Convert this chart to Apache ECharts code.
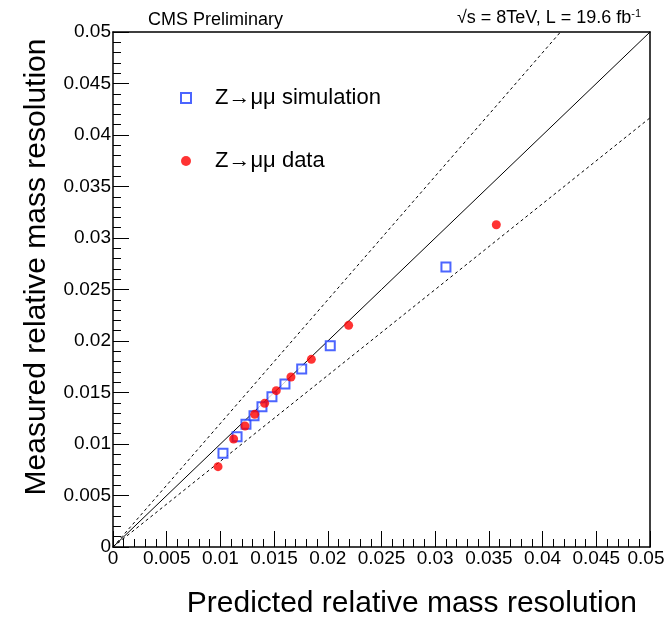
<!DOCTYPE html>
<html><head><meta charset="utf-8">
<script src="https://cdn.jsdelivr.net/npm/echarts@6/dist/echarts.min.js"></script>
<style>html,body{margin:0;padding:0;background:#fff}#c{width:665px;height:618px}</style>
</head><body><div id="c"></div>
<script>
// Z->mumu simulation (predicted, measured)
const simX = [0.01024, 0.01155, 0.01238, 0.01313, 0.01387, 0.01480, 0.01601, 0.01757, 0.02023, 0.0310];
const simY = [0.00910, 0.01071, 0.01191, 0.01275, 0.01362, 0.01459, 0.01583, 0.01728, 0.01954, 0.02718];
// Z->mumu data
const dataX = [0.00978, 0.01123, 0.01229, 0.01319, 0.01412, 0.01520, 0.01657, 0.01847, 0.02194, 0.03569];
const dataY = [0.00780, 0.01049, 0.01175, 0.01288, 0.01395, 0.01518, 0.01650, 0.01822, 0.02152, 0.03129];
// reference lines y = k*x
const lineSlopes = [1.2, 1.0, 1/1.2];
const lineDashed = [true, false, true];
const axisMin = 0, axisMax = 0.05, axisStep = 0.005;
const xTitle = 'Predicted relative mass resolution';
const yTitle = 'Measured relative mass resolution';

const FONT = 'Liberation Sans, Arial, Helvetica, sans-serif';
const zip = (a, b) => a.map((v, i) => [v, b[i]]);
const lineSeries = lineSlopes.map((k, i) => {
  const xEnd = Math.min(axisMax, axisMax / k);
  return {
    type: 'line', data: [[0, 0], [xEnd, k * xEnd]], symbol: 'none', silent: true, animation: false,
    lineStyle: {color: '#000', width: 1, type: lineDashed[i] ? [3, 3] : 'solid'}, z: 1
  };
});
const fmt = v => String(parseFloat(Number(v).toFixed(4)));
const fmtX = v => (Math.abs(v - axisMax) < 1e-9 ? '{e|' + fmt(v) + '}' : fmt(v));
function mainAxis(pos) {
  return {
    type: 'value', position: pos, min: axisMin, max: axisMax, interval: axisStep,
    axisLine: {show: true, onZero: false, lineStyle: {color: '#000', width: 1.5}},
    axisTick: {show: true, inside: true, length: 16, lineStyle: {color: '#000', width: 1}},
    minorTick: {show: true, splitNumber: 5, length: 8, lineStyle: {color: '#000', width: 1}},
    splitLine: {show: false},
    axisLabel: {color: '#000', fontFamily: FONT, fontSize: 19, margin: 2, formatter: fmt}
  };
}
function frameAxis(pos) {
  return {
    type: 'value', position: pos, min: axisMin, max: axisMax, interval: axisStep,
    axisLine: {show: true, onZero: false, lineStyle: {color: '#000', width: 1.5}},
    axisTick: {show: false}, minorTick: {show: false}, splitLine: {show: false}, axisLabel: {show: false}
  };
}
const xMain = mainAxis('bottom');
xMain.axisLabel.formatter = fmtX;
xMain.axisLabel.rich = {e: {fontFamily: FONT, fontSize: 19, color: '#000', padding: [0, 8, 0, 0]}};
const chart = echarts.init(document.getElementById('c'));
chart.setOption({
  grid: {left: 113, right: 15, top: 32, bottom: 71, containLabel: false, outerBoundsMode: 'none'},
  xAxis: [xMain, frameAxis('top')],
  yAxis: [mainAxis('left'), frameAxis('right')],
  legend: {
    orient: 'vertical', left: 175, top: 80, itemGap: 37, itemWidth: 10, itemHeight: 10,
    data: ['Z→μμ simulation', 'Z→μμ data'],
    textStyle: {fontFamily: FONT, fontSize: 22, color: '#000', padding: [0, 0, 0, 19], lineHeight: 26}
  },
  series: lineSeries.concat([
    {name: 'Z→μμ simulation', type: 'scatter', data: zip(simX, simY), symbol: 'emptyRect', symbolSize: 9, animation: false,
     itemStyle: {color: '#1f3fff', borderColor: '#1f3fff', borderWidth: 1.3}, z: 3},
    {name: 'Z→μμ data', type: 'scatter', data: zip(dataX, dataY), symbol: 'circle', symbolSize: 9, animation: false,
     itemStyle: {color: '#ff0000'}, z: 4}
  ]),
  graphic: [
    {type: 'text', left: 148, top: 11, style: {text: 'CMS Preliminary', font: '18px ' + FONT, fill: '#000'}},
    {type: 'text', right: 24, top: 8, style: {
      text: '√s = 8TeV, L = 19.6 fb{s|-1}', font: '18px ' + FONT, fill: '#000',
      rich: {s: {fontSize: 11, verticalAlign: 'top', padding: [0, 0, 9, 0], fontFamily: FONT}}}},
    {type: 'text', right: 28, top: 589, style: {text: xTitle, font: '30px ' + FONT, fill: '#000'}},
    {type: 'text', x: 37, y: 267, rotation: Math.PI / 2, style: {text: yTitle, font: '30px ' + FONT, fill: '#000', align: 'center', verticalAlign: 'middle'}}
  ]
});
</script></body></html>
